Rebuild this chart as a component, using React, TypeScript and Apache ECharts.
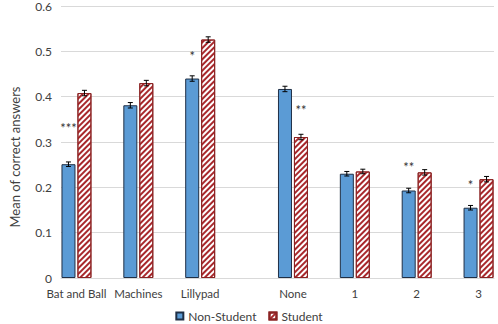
import React, { useEffect, useRef } from "react";
import * as echarts from "echarts";

const categories = ["Bat and Ball", "Machines", "Lillypad", "None", "1", "2", "3"];
const nonStudent = [0.251, 0.381, 0.44, 0.417, 0.23, 0.193, 0.155];
const student = [0.408, 0.43, 0.526, 0.311, 0.235, 0.233, 0.218];
const nonStudentErr = [0.005, 0.006, 0.006, 0.006, 0.005, 0.005, 0.005];
const studentErr = [0.006, 0.006, 0.006, 0.006, 0.005, 0.006, 0.006];
const sigLabels = ["***", "", "*", "**", "", "**", "*"];
const sigSeries = [0, 0, 0, 1, 0, 0, 0];
const sigValues = [0.33, 0, 0.49, 0.37, 0, 0.245, 0.205];
const yTicks = ["0", "0.1", "0.2", "0.3", "0.4", "0.5", "0.6"];

// layout: each category occupies two half-slots, with an extra gap slot before "None"
const slotOf = [0, 2, 4, 7, 9, 11, 13];
const SLOT_COUNT = 14;

const FONT = "Lato";

export default function App() {
  const ref = useRef<HTMLDivElement>(null);
  useEffect(() => {
    const chart = echarts.init(ref.current!, undefined, { renderer: "svg" });
    const axisData: string[] = new Array(SLOT_COUNT).fill("");
    categories.forEach((c, i) => (axisData[slotOf[i]] = c));
    const toSlots = (arr: number[]) => {
      const out: (number | null)[] = new Array(SLOT_COUNT).fill(null);
      arr.forEach((v, i) => (out[slotOf[i]] = v));
      return out;
    };
    const errData = (vals: number[], errs: number[]) =>
      vals.map((v, i) => [slotOf[i], v - errs[i], v + errs[i]]);
    const OFFSET = 8;
    const errSeries = (vals: number[], errs: number[], side: number) => ({
      type: "custom",
      data: errData(vals, errs),
      z: 10,
      silent: true,
      renderItem: (params: any, api: any) => {
        const x = api.value(0);
        const lo = api.coord([x, api.value(1)]);
        const hi = api.coord([x, api.value(2)]);
        const cx = lo[0] + side * OFFSET;
        const s = { stroke: "#000", lineWidth: 1 };
        return {
          type: "group",
          children: [
            { type: "line", shape: { x1: cx, y1: lo[1], x2: cx, y2: hi[1] }, style: s },
            { type: "line", shape: { x1: cx - 2.5, y1: lo[1], x2: cx + 2.5, y2: lo[1] }, style: s },
            { type: "line", shape: { x1: cx - 2.5, y1: hi[1], x2: cx + 2.5, y2: hi[1] }, style: s },
          ],
        };
      },
    });
    const sigData = sigLabels
      .map((l, i) => [slotOf[i], sigValues[i], sigSeries[i], l])
      .filter((d) => d[3] !== "");

    chart.setOption({
      animation: false,
      textStyle: { fontFamily: FONT },
      grid: { left: 51, right: 4, top: 6, bottom: 46 },
      legend: {
        top: 305,
        left: "center",
        icon: "rect",
        itemWidth: 7,
        itemHeight: 7,
        itemGap: 12,
        textStyle: { fontSize: 12, color: "#404040", fontFamily: FONT },
        data: ["Non-Student", "Student"],
      },
      xAxis: {
        type: "category",
        data: axisData,
        axisTick: { show: false },
        axisLine: { lineStyle: { color: "#d9d9d9" } },
        axisLabel: { interval: 0, fontSize: 11.5, color: "#404040", margin: 9, fontFamily: FONT },
      },
      yAxis: {
        type: "value",
        min: 0,
        max: 0.6,
        interval: 0.1,
        name: "Mean of correct answers",
        nameLocation: "middle",
        nameGap: 40,
        nameTextStyle: {
          fontSize: 13,
          color: "#404040",
          fontFamily: FONT,
          padding: [0, 30, 0, 0],
        },
        axisLabel: {
          fontSize: 12,
          color: "#404040",
          margin: 9,
          fontFamily: FONT,
          formatter: (v: number) => yTicks[Math.round(v * 10)],
        },
        splitLine: { lineStyle: { color: "#d9d9d9" } },
      },
      series: [
        {
          name: "Non-Student",
          type: "bar",
          data: toSlots(nonStudent),
          barWidth: 14,
          barGap: "14%",
          itemStyle: { color: "#5b9bd5", borderColor: "#1f2f45", borderWidth: 1 },
        },
        {
          name: "Student",
          type: "bar",
          data: toSlots(student),
          barWidth: 14,
          itemStyle: {
            color: "#ffffff",
            borderColor: "#8b2323",
            borderWidth: 1,
            decal: {
              symbol: "rect",
              symbolSize: 1,
              color: "#a8282c",
              dashArrayX: [1, 0],
              dashArrayY: [2, 2],
              rotation: -Math.PI / 4,
            },
          },
        },
        errSeries(nonStudent, nonStudentErr, -1),
        errSeries(student, studentErr, 1),
        {
          type: "custom",
          data: sigData,
          z: 11,
          silent: true,
          renderItem: (params: any, api: any) => {
            const p = api.coord([api.value(0), api.value(1)]);
            const side = api.value(2) === 1 ? 1 : -1;
            return {
              type: "text",
              x: p[0] + side * OFFSET,
              y: p[1],
              style: {
                text: sigData[params.dataIndex][3] as string,
                fontSize: 13,
                fill: "#333333",
                fontFamily: FONT,
                align: "center",
                verticalAlign: "middle",
              },
            };
          },
        },
      ],
    });
    return () => chart.dispose();
  }, []);
  return (
    <div
      ref={ref}
      style={{ position: "absolute", left: 0, top: 0, width: 498, height: 324 }}
    />
  );
}
